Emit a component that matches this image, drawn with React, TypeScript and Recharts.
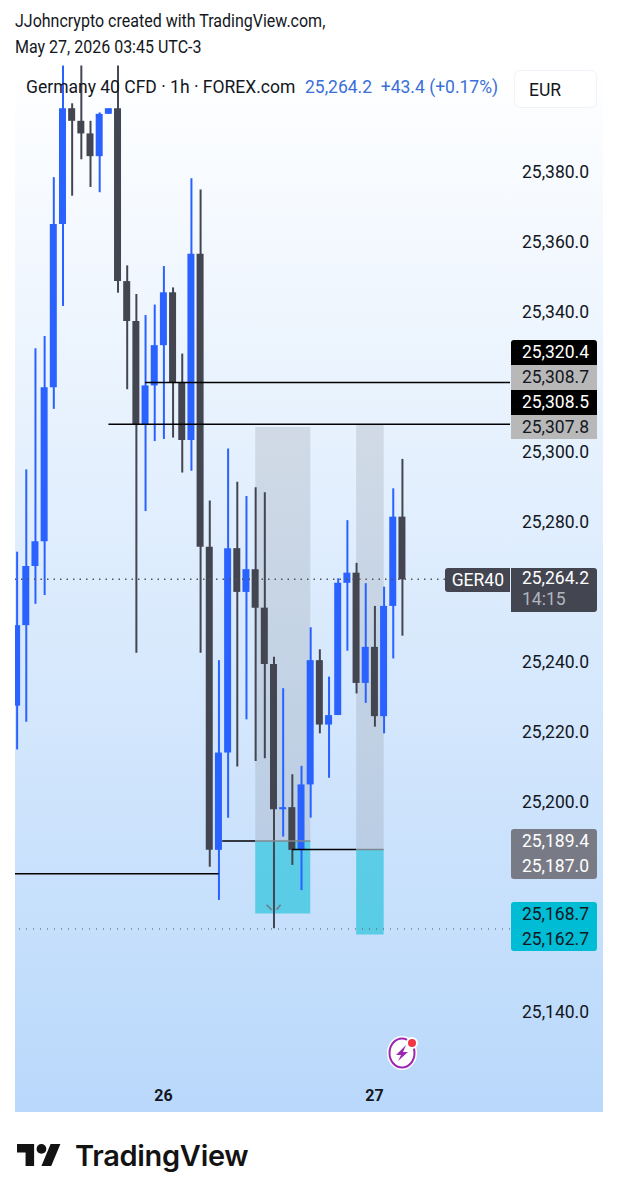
import React from "react";
import {
  ComposedChart,
  Bar,
  Cell,
  XAxis,
  YAxis,
  ReferenceLine,
  ReferenceArea,
  ReferenceDot,
} from "recharts";

// hourly candles, price
const opens = [
  25228.1, 25251.1, 25268, 25275.1, 25319.1, 25365.7, 25398.8, 25395.2, 25391.6, 25385.1, 25397.2,
  25398.8, 25349.4, 25338, 25308.5, 25319.6, 25331.1, 25346.2, 25320.4, 25304, 25357.2, 25273.5,
  25186.9, 25214.7, 25273.1, 25260.6, 25267.1, 25256.1, 25240, 25198.5, 25199.1, 25186.9, 25205.6,
  25241.1, 25222.7, 25225.4, 25263.2, 25266.1, 25234.6, 25244.9, 25225.1, 25256.6, 25282.1,
];
const highs = [
  25272.1, 25295.6, 25330.2, 25333.7, 25379.1, 25411, 25400.2, 25411, 25395.2, 25397.6, 25398.8,
  25411, 25353.9, 25345.7, 25339.7, 25342.7, 25353.7, 25347.6, 25328.7, 25378.8, 25375.6, 25286.7,
  25241.1, 25301.6, 25292.1, 25288, 25290.5, 25289.1, 25242.1, 25233.1, 25208.5, 25210.9, 25250.5,
  25244.2, 25236.4, 25264.5, 25281.1, 25268.9, 25263.1, 25256.6, 25262.1, 25290.2, 25298.6,
];
const lows = [
  25215.6, 25223.5, 25257.2, 25259.7, 25312.9, 25342.3, 25373.8, 25384.2, 25376.3, 25374.8, 25397.2,
  25346.1, 25318.5, 25243.2, 25283.7, 25303.7, 25304.3, 25304.7, 25294.7, 25295.2, 25243.2, 25182.1,
  25172.6, 25196.1, 25210.7, 25224.2, 25212.3, 25213.1, 25164.5, 25190.7, 25182.6, 25175.4, 25196.1,
  25220.2, 25207.5, 25225.4, 25243.8, 25231.6, 25228.9, 25222.1, 25220.2, 25241.6, 25248.1,
];
const closes = [
  25251.1, 25268, 25275.1, 25319.1, 25365.7, 25398.8, 25395.2, 25391.6, 25385.1, 25397.2, 25398.8,
  25349.4, 25338, 25308.5, 25319.6, 25331.1, 25346.2, 25320.4, 25304, 25357.2, 25273.5, 25186.9,
  25214.7, 25273.1, 25260.6, 25267.1, 25256.1, 25240, 25198.5, 25199.1, 25186.9, 25205.6, 25241.1,
  25222.7, 25225.4, 25263.2, 25266.1, 25234.6, 25244.9, 25225.1, 25256.6, 25282.1, 25264.2,
];

// 25,320 / 25,180 / 25,160 sit behind the price tags in the picture
const priceTicks = [25380, 25360, 25340, 25300, 25280, 25260, 25240, 25220, 25200, 25140];
const dayTicks = [16, 39];
const dayLabels = ["26", "27"];

const UP = "#2962ff";
const DOWN = "#434651";
const X_DOMAIN = [-0.185, 53.77];
const Y_DOMAIN = [25122.29, 25411.43];

const rows = opens.map((open, i) => ({
  i,
  body: [Math.min(open, closes[i]), Math.max(open, closes[i])],
  wick: [lows[i], highs[i]],
  up: closes[i] >= open,
}));

// drawn levels: [price, from candle, to candle]
const blackLevels = [
  [25320.4, 14, X_DOMAIN[1]],
  [25308.5, 10, X_DOMAIN[1]],
  [25189.4, 22.4, 26],
  [25187, 30, 37],
  [25180.1, X_DOMAIN[0], 22],
];
const greyLevels = [
  [25189.4, 26, 32],
  [25187, 37, 40],
];

function Tag({ top, left = 511, width = 86, height, bg, color, children, radius = "0", pad = 8 }: any) {
  return (
    <div
      style={{
        position: "absolute",
        top,
        left,
        width,
        height,
        lineHeight: height + "px",
        background: bg,
        color,
        borderRadius: radius,
        fontSize: 17.5,
        textAlign: "right",
        paddingRight: pad,
        boxSizing: "border-box",
      }}
    >
      {children}
    </div>
  );
}

function ChevronMark({ cx, cy }: any) {
  return (
    <g stroke="#6f7a85" strokeWidth={1.5} fill="none">
      <line x1={cx - 7} y1={cy - 5} x2={cx - 2} y2={cy} />
      <line x1={cx + 7} y1={cy - 5} x2={cx + 3} y2={cy} />
    </g>
  );
}

export default function App() {
  return (
    <div
      style={{
        position: "absolute",
        left: 0,
        top: 0,
        width: 617,
        height: 1200,
        background: "#fff",
        fontFamily: "Roboto, sans-serif",
        overflow: "hidden",
      }}
    >
      <div
        style={{
          position: "absolute",
          left: 15,
          top: 8,
          fontSize: 16,
          lineHeight: "24px",
          color: "#131722",
          transform: "scaleY(1.1)",
          transformOrigin: "0 0",
        }}
      >
        JJohncrypto created with TradingView.com,
        <br />
        May 27, 2026 03:45 UTC-3
      </div>
      <div
        style={{
          position: "absolute",
          left: 15,
          top: 64,
          width: 588,
          height: 1048,
          background: "linear-gradient(180deg, #ffffff 0%, #b9d8fb 100%)",
        }}
      />
      <ComposedChart
        width={617}
        height={1200}
        data={rows}
        margin={{ top: 64, left: 15, right: 14, bottom: 88 }}
        style={{ position: "absolute", left: 0, top: 0 }}
      >
        <XAxis
          dataKey="i"
          type="number"
          domain={X_DOMAIN}
          allowDataOverflow
          ticks={dayTicks}
          interval={0}
          height={36}
          axisLine={false}
          tickLine={false}
          tickMargin={8}
          tick={{ fill: "#131722", fontSize: 16, fontWeight: 700 }}
          tickFormatter={(v) => dayLabels[dayTicks.indexOf(v)]}
        />
        <XAxis xAxisId="wick" dataKey="i" type="number" domain={X_DOMAIN} allowDataOverflow hide />
        <YAxis
          orientation="right"
          domain={Y_DOMAIN}
          allowDataOverflow
          ticks={priceTicks}
          interval={0}
          width={93}
          axisLine={false}
          tickLine={false}
          tickMargin={6}
          tick={{ fill: "#131722", fontSize: 17.5, dy: -2 }}
          tickFormatter={(v) => v.toLocaleString("en-US", { minimumFractionDigits: 1 })}
        />

        <ReferenceArea x1={26} x2={32} y1={25307.7} y2={25189.4} fill="#787b86" fillOpacity={0.2} stroke="none" />
        <ReferenceArea x1={26} x2={32} y1={25189.4} y2={25168.7} fill="#00bcd4" fillOpacity={0.55} stroke="none" />
        <ReferenceArea x1={37} x2={40} y1={25308.3} y2={25187} fill="#787b86" fillOpacity={0.2} stroke="none" />
        <ReferenceArea x1={37} x2={40} y1={25187} y2={25162.7} fill="#00bcd4" fillOpacity={0.55} stroke="none" />

        <ReferenceLine y={25264.2} stroke="#50535e" strokeDasharray="1.5 5" strokeWidth={1.5} />
        <ReferenceLine y={25164.3} stroke="#50535e" strokeDasharray="1 6" strokeWidth={1} />

        <Bar xAxisId="wick" dataKey="wick" barSize={2} isAnimationActive={false}>
          {rows.map((r) => (
            <Cell key={r.i} fill={r.up ? UP : DOWN} />
          ))}
        </Bar>
        <Bar dataKey="body" barSize={7} isAnimationActive={false}>
          {rows.map((r) => (
            <Cell key={r.i} fill={r.up ? UP : DOWN} />
          ))}
        </Bar>

        {blackLevels.map(([price, from, to]) => (
          <ReferenceLine
            key={price + "-" + from}
            segment={[
              { x: from, y: price },
              { x: to, y: price },
            ]}
            stroke="#000"
            strokeWidth={1.5}
          />
        ))}
        {greyLevels.map(([price, from, to]) => (
          <ReferenceLine
            key={price + "-" + from}
            segment={[
              { x: from, y: price },
              { x: to, y: price },
            ]}
            stroke="#7f8790"
            strokeWidth={1.5}
          />
        ))}
        <ReferenceDot x={28} y={25169.8} r={0} shape={ChevronMark} />
      </ComposedChart>

      <div style={{ position: "absolute", left: 26, top: 76, fontSize: 17.5, lineHeight: "22px", color: "#131722", whiteSpace: "pre" }}>
        Germany 40 CFD · 1h · FOREX.com
      </div>
      <div style={{ position: "absolute", left: 305, top: 76, fontSize: 17.5, lineHeight: "22px", color: "#3a6fd8", whiteSpace: "pre" }}>
        25,264.2{"  "}+43.4 (+0.17%)
      </div>
      <div
        style={{
          position: "absolute",
          left: 514,
          top: 70,
          width: 83,
          height: 38,
          lineHeight: "38px",
          paddingLeft: 14,
          boxSizing: "border-box",
          background: "#fff",
          border: "1px solid #f0f3fa",
          borderRadius: 6,
          fontSize: 17.5,
          color: "#131722",
        }}
      >
        EUR
      </div>

      <Tag top={340} height={25} bg="#000" color="#fff" radius="3px 3px 0 0">25,320.4</Tag>
      <Tag top={365} height={25} bg="#b8b8b8" color="#131722">25,308.7</Tag>
      <Tag top={390} height={25} bg="#000" color="#fff">25,308.5</Tag>
      <Tag top={415} height={24} bg="#b8b8b8" color="#131722">25,307.8</Tag>
      <Tag top={568} left={445} width={65} height={24} bg={DOWN} color="#fff" radius="3px 0 0 3px" pad={6}>GER40</Tag>
      <Tag top={568} height={44} bg={DOWN} color="#fff" radius="0 3px 3px 0">
        <div style={{ lineHeight: "21px" }}>25,264.2</div>
        <div style={{ lineHeight: "21px", color: "#b2b5be", textAlign: "left", paddingLeft: 11 }}>14:15</div>
      </Tag>
      <Tag top={829} height={25} bg="#787b86" color="#fff" radius="3px 3px 0 0">25,189.4</Tag>
      <Tag top={854} height={25} bg="#787b86" color="#fff" radius="0 0 3px 3px">25,187.0</Tag>
      <Tag top={902} height={25} bg="#00bcd4" color="#131722" radius="3px 3px 0 0">25,168.7</Tag>
      <Tag top={927} height={24} bg="#00bcd4" color="#131722" radius="0 0 3px 3px">25,162.7</Tag>

      <svg style={{ position: "absolute", left: 381, top: 1029 }} width={44} height={46}>
        <ellipse cx={21} cy={24} rx={15} ry={17} fill="#fff" />
        <ellipse cx={21} cy={24} rx={12.5} ry={14.5} fill="none" stroke="#9c27b0" strokeWidth={2} />
        <path d="M25 16 L15 26 H20 L17 32 L27 23 H22 Z" fill="#9c27b0" />
        <circle cx={31} cy={14} r={6} fill="#fff" />
        <circle cx={31} cy={14} r={4} fill="#f23645" />
      </svg>

      <svg style={{ position: "absolute", left: 17, top: 1144 }} width={44} height={22} viewBox="0 4 36 18" preserveAspectRatio="none">
        <path d="M14 22H7V11H0V4h14v18zM28 22h-8l7.5-18h8L28 22z" fill="#131313" />
        <circle cx={20} cy={8} r={4} fill="#131313" />
      </svg>
      <div style={{ position: "absolute", left: 75, top: 1138, fontSize: 29, lineHeight: "36px", fontWeight: 600, fontFamily: "Inter, sans-serif", color: "#131313", letterSpacing: -0.3 }}>
        TradingView
      </div>
    </div>
  );
}
